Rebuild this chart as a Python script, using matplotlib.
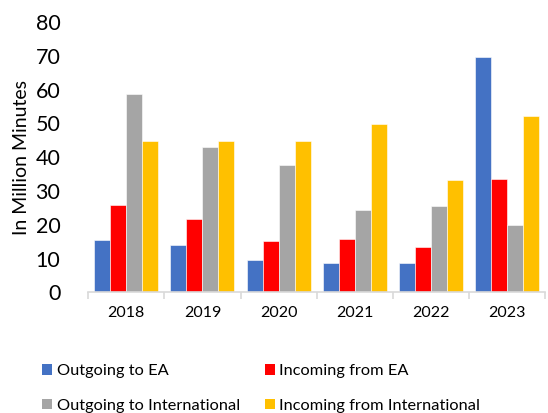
import matplotlib
matplotlib.use("Agg")
import matplotlib.pyplot as plt
import numpy as np
from matplotlib.patches import Patch

years = ["2018", "2019", "2020", "2021", "2022", "2023"]
outgoing_ea = [15.5, 14.0, 9.5, 8.8, 8.7, 69.7]
incoming_ea = [25.9, 21.7, 15.2, 15.7, 13.3, 33.4]
outgoing_intl = [58.8, 43.0, 37.8, 24.5, 25.7, 20.0]
incoming_intl = [44.9, 44.9, 44.9, 49.7, 33.1, 52.1]

series_names = ["Outgoing to EA", "Incoming from EA",
                "Outgoing to International", "Incoming from International"]
colors = ["#4472C4", "#FF0000", "#A5A5A5", "#FFC000"]
yticks = [0, 10, 20, 30, 40, 50, 60, 70, 80]

plt.rcParams["font.family"] = ["Lato", "DejaVu Sans"]

fig = plt.figure(figsize=(5.48, 4.13), dpi=100)
ax = fig.add_axes([0.161, 0.292, 0.834, 0.655])

series = [outgoing_ea, incoming_ea, outgoing_intl, incoming_intl]
x = np.arange(len(years))
bw = 0.21
for i, (vals, c) in enumerate(zip(series, colors)):
    ax.bar(x + (i - 1.5) * bw, vals, width=bw, color=c,
           edgecolor="white", linewidth=0.4)

ax.set_xlim(-0.5, len(years) - 0.5)
ax.set_ylim(0, 80)
ax.set_yticks(yticks)
ax.set_yticklabels([str(v) for v in yticks], fontsize=15.5)
ax.tick_params(axis="y", length=0, pad=20)

# category labels centred on groups, tick marks between groups
ax.set_xticks(x)
ax.set_xticklabels(years, fontsize=11.5)
ax.tick_params(axis="x", which="major", length=0, pad=10)
ax.set_xticks(np.arange(-0.5, len(years), 1.0), minor=True)
ax.tick_params(axis="x", which="minor", length=5, color="#D9D9D9", width=1.2)

for s in ["top", "right", "left"]:
    ax.spines[s].set_visible(False)
ax.spines["bottom"].set_color("#D9D9D9")
ax.spines["bottom"].set_linewidth(1.2)

ax.set_ylabel("In Million Minutes", fontsize=14, labelpad=4)

# legend laid out row-wise: EA pair on the first row, international pair below
order = [0, 2, 1, 3]
handles = [Patch(facecolor=colors[k], edgecolor="none") for k in order]
labels = [series_names[k] for k in order]
fig.legend(handles, labels, loc="lower left", ncol=2,
           bbox_to_anchor=(0.05, -0.035), frameon=False, fontsize=11.8,
           handlelength=0.6, handleheight=0.6, handletextpad=0.3,
           columnspacing=1.5, labelspacing=1.25)

fig.savefig("out.png", dpi=100)
